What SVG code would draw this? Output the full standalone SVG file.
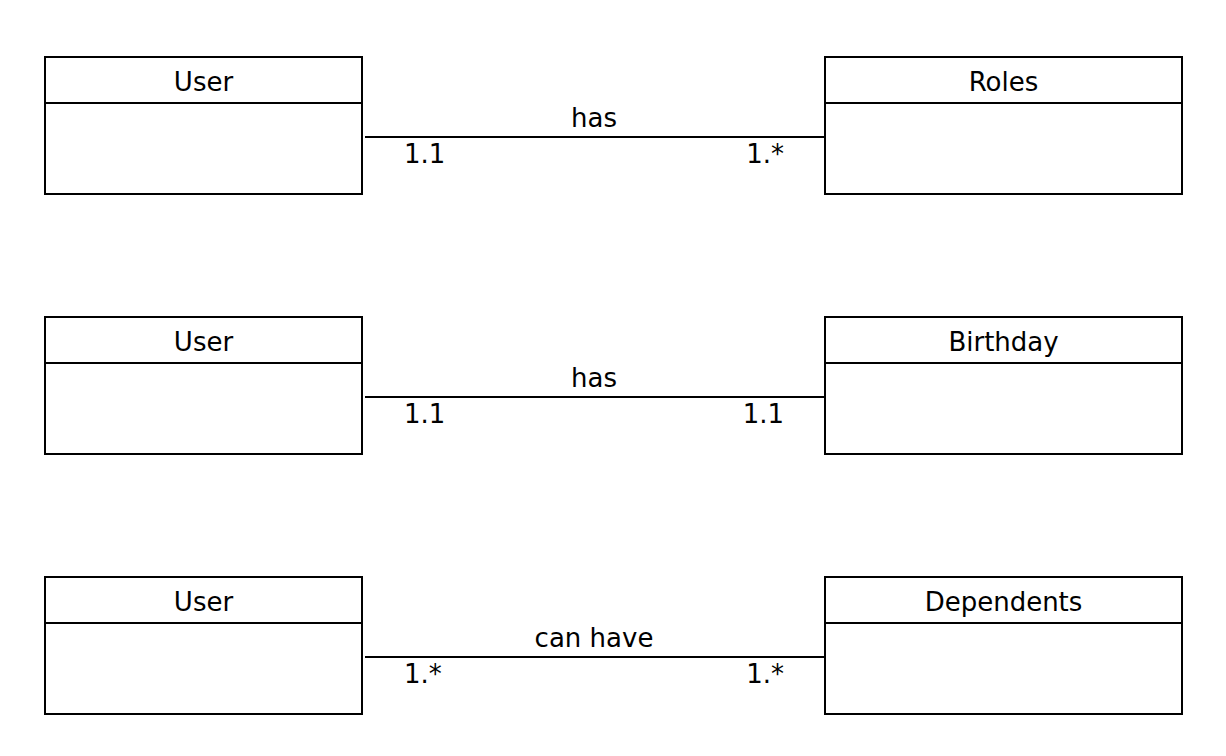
<svg xmlns="http://www.w3.org/2000/svg" width="1226" height="756" viewBox="0 0 1226 756">
<style>
.box{fill:#fff;stroke:#000;stroke-width:2}
.div{stroke:#000;stroke-width:2}
.t{font-family:"DejaVu Sans","Liberation Sans",sans-serif;font-size:26px;fill:#000}
.c{text-anchor:middle}
.e{text-anchor:end}
.conn{stroke:#000;stroke-width:2;fill:none}
</style>
<rect width="1226" height="756" fill="#fff"/>
<g id="user1"><rect class="box" x="45" y="57" width="317" height="137"/><line class="div" x1="45" y1="103" x2="362" y2="103"/><text class="t c" x="203.5" y="91">User</text></g>
<g id="roles"><rect class="box" x="825" y="57" width="357" height="137"/><line class="div" x1="825" y1="103" x2="1182" y2="103"/><text class="t c" x="1003.5" y="91">Roles</text></g>
<g id="user2"><rect class="box" x="45" y="317" width="317" height="137"/><line class="div" x1="45" y1="363" x2="362" y2="363"/><text class="t c" x="203.5" y="351">User</text></g>
<g id="birthday"><rect class="box" x="825" y="317" width="357" height="137"/><line class="div" x1="825" y1="363" x2="1182" y2="363"/><text class="t c" x="1003.5" y="351">Birthday</text></g>
<g id="user3"><rect class="box" x="45" y="577" width="317" height="137"/><line class="div" x1="45" y1="623" x2="362" y2="623"/><text class="t c" x="203.5" y="611">User</text></g>
<g id="dependents"><rect class="box" x="825" y="577" width="357" height="137"/><line class="div" x1="825" y1="623" x2="1182" y2="623"/><text class="t c" x="1003.5" y="611">Dependents</text></g>
<g id="connectors">
<line class="conn" x1="365" y1="137" x2="825" y2="137"/>
<text class="t c" x="594" y="127">has</text>
<text class="t" x="404" y="163">1.1</text>
<text class="t e" x="784" y="163">1.*</text>
<line class="conn" x1="365" y1="397" x2="825" y2="397"/>
<text class="t c" x="594" y="387">has</text>
<text class="t" x="404" y="423">1.1</text>
<text class="t e" x="784" y="423">1.1</text>
<line class="conn" x1="365" y1="657" x2="825" y2="657"/>
<text class="t c" x="594" y="647">can have</text>
<text class="t" x="404" y="683">1.*</text>
<text class="t e" x="784" y="683">1.*</text>
</g>
</svg>
